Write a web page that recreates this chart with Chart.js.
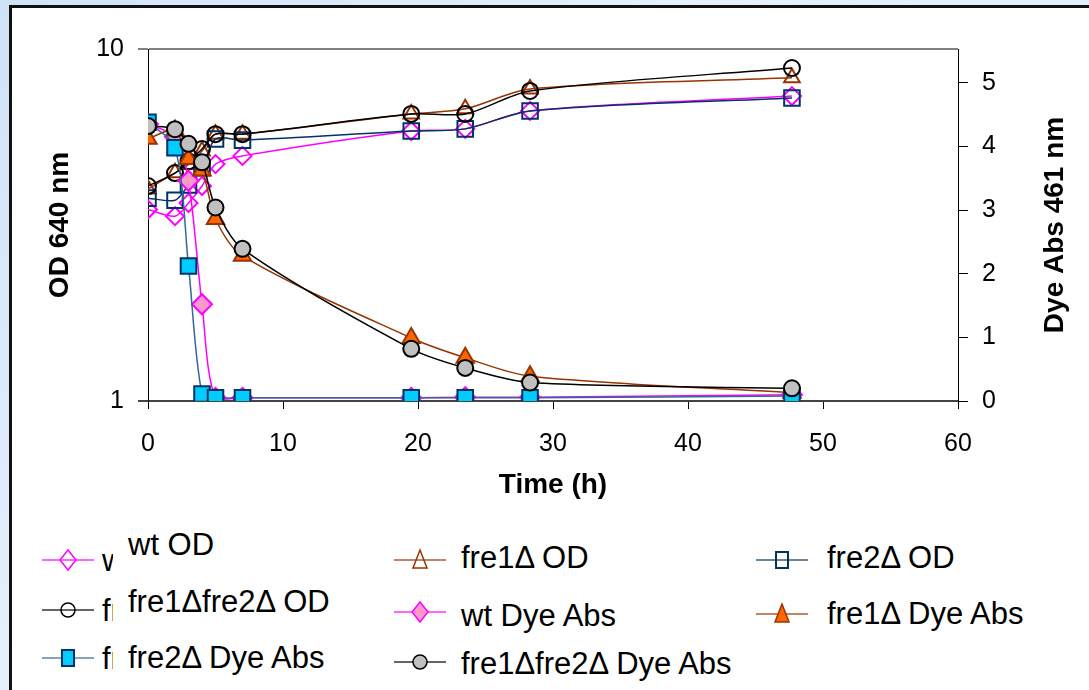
<!DOCTYPE html>
<html>
<head>
<meta charset="utf-8">
<script src="https://cdn.jsdelivr.net/npm/chart.js@4/dist/chart.umd.min.js"></script>
<style>
  html, body { margin: 0; padding: 0; }
  body {
    width: 1089px; height: 690px; overflow: hidden; position: relative;
    background: linear-gradient(135deg, #cfe3f7 0%, #e6f1fb 40%, #d9eaf8 100%);
    font-family: "Liberation Sans", Arial, sans-serif;
  }
  #frame {
    position: absolute; left: 9px; top: 5px; width: 1100px; height: 700px;
    background: #fff; border: 3px solid #111; box-sizing: border-box;
  }
  #chart { position: absolute; left: 0; top: 0; }
  .lg { position: absolute; font-size: 31px; color: #000; white-space: nowrap; line-height: 1; }
  .lgm { position: absolute; }
  .clip { position: absolute; overflow: hidden; width: 11px; font-size: 31px; line-height: 1; white-space: nowrap; }
</style>
</head>
<body>
<div id="frame"></div>
<canvas id="chart" width="1089" height="520"></canvas>
<div id="legend"></div>
<script>
// time points (h)
var times = [0, 2, 3, 4, 5, 7, 19.5, 23.5, 28.3, 47.7];

// OD 640 nm (left, log axis)
var wtOD     = [3.5, 3.35, 3.65, 4.08, 4.71, 4.97, 5.85, 5.93, 6.67, 7.35];
var fre1OD   = [4.0, 4.45, 4.7, 5.13, 5.73, 5.73, 6.54, 6.76, 7.7, 8.28];
var fre2OD   = [3.77, 3.72, 4.11, 4.6, 5.55, 5.51, 5.85, 5.93, 6.67, 7.26];
var fre12OD  = [4.08, 4.44, 4.8, 5.2, 5.73, 5.73, 6.54, 6.54, 7.6, 8.83];

// Dye Abs 461 nm (right axis)
var wtDye    = [4.35, 4.15, 3.46, 1.52, 0.05, 0.05, 0.05, 0.06, 0.06, 0.1];
var fre1Dye  = [4.12, 4.25, 3.8, 3.62, 2.86, 2.28, 0.99, 0.68, 0.39, 0.13];
var fre2Dye  = [4.38, 3.98, 2.12, 0.11, 0.05, 0.05, 0.05, 0.05, 0.05, 0.08];
var fre12Dye = [4.32, 4.27, 4.04, 3.75, 3.04, 2.39, 0.82, 0.52, 0.29, 0.2];

var xTicks = [0, 10, 20, 30, 40, 50, 60];
var odTicks = [1, 10];
var dyeTicks = [0, 1, 2, 3, 4, 5];

function pts(vals) {
  return vals.map(function (v, i) { return { x: times[i], y: v }; });
}

var hollow = 'rgba(255,255,255,0)';

// label, data, axis, line colour, marker style, fill, marker border, radius
var series = [
  ['wt OD', wtOD, 'y', '#ff00ff', 'rectRot', hollow, '#ff00ff', 9],
  ['fre1\u0394 OD', fre1OD, 'y', '#993300', 'triangle', hollow, '#993300', 9],
  ['fre2\u0394 OD', fre2OD, 'y', '#003366', 'rect', hollow, '#003366', 11],
  ['fre1\u0394fre2\u0394 OD', fre12OD, 'y', '#000000', 'circle', hollow, '#000000', 8],
  ['wt Dye Abs', wtDye, 'y2', '#ff00ff', 'rectRot', '#ff99cc', '#ff00ff', 10],
  ['fre1\u0394 Dye Abs', fre1Dye, 'y2', '#993300', 'triangle', '#ff6600', '#993300', 10],
  ['fre2\u0394 Dye Abs', fre2Dye, 'y2', '#336699', 'rect', '#00ccff', '#003366', 11],
  ['fre1\u0394fre2\u0394 Dye Abs', fre12Dye, 'y2', '#000000', 'circle', '#c0c0c0', '#000000', 8]
];

var datasets = series.map(function (s, i) {
  return {
    label: s[0],
    data: pts(s[1]),
    yAxisID: s[2],
    borderColor: s[3],
    borderWidth: 1.5,
    pointStyle: s[4],
    pointBackgroundColor: s[5],
    pointBorderColor: s[6],
    pointBorderWidth: 2,
    pointRadius: s[7],
    pointHoverRadius: s[7],
    tension: 0.3,
    fill: false,
    order: -i
  };
});

var tickFont = { family: 'Liberation Sans', size: 25 };
var titleFont = { family: 'Liberation Sans', size: 28, weight: 'bold' };

// right axis title reads bottom-to-top like the left one
var rightTitle = {
  id: 'rightTitle',
  afterDraw: function (chart) {
    var ctx = chart.ctx, a = chart.chartArea;
    ctx.save();
    ctx.translate(1055, (a.top + a.bottom) / 2);
    ctx.rotate(-Math.PI / 2);
    ctx.font = 'bold 28px "Liberation Sans"';
    ctx.fillStyle = '#000';
    ctx.textAlign = 'center';
    ctx.textBaseline = 'middle';
    ctx.fillText('Dye Abs 461 nm', 0, 0);
    ctx.restore();
  }
};

new Chart(document.getElementById('chart').getContext('2d'), {
  type: 'line',
  data: { datasets: datasets },
  plugins: [rightTitle],
  options: {
    responsive: false,
    animation: false,
    devicePixelRatio: 1,
    layout: { padding: { left: 0, top: 49, right: 0, bottom: 0 } },
    plugins: { legend: { display: false }, tooltip: { enabled: false } },
    scales: {
      x: {
        type: 'linear', min: 0, max: 60,
        afterBuildTicks: function (s) { s.ticks = xTicks.map(function (v) { return { value: v }; }); },
        afterFit: function (s) { s.height = 119; },
        ticks: { font: tickFont, color: '#000', padding: 20 },
        grid: { drawOnChartArea: false, tickLength: 8, color: '#000' },
        border: { color: '#444', width: 2 },
        title: { display: true, text: 'Time (h)', font: titleFont, color: '#000', padding: { top: 0, bottom: 18 } }
      },
      y: {
        type: 'logarithmic', position: 'left', min: 1, max: 10,
        afterBuildTicks: function (s) { s.ticks = odTicks.map(function (v) { return { value: v }; }); },
        afterFit: function (s) { s.width = 148; },
        ticks: { font: tickFont, color: '#000', padding: 14, callback: function (v) { return String(v); } },
        grid: {
          tickLength: 10,
          color: function (c) { return c.tick && c.tick.value === 10 ? '#808080' : '#444'; },
          lineWidth: 2
        },
        border: { color: '#000', width: 1 },
        title: { display: true, text: 'OD 640 nm', font: titleFont, color: '#000', padding: { top: 43, bottom: 0 } }
      },
      y2: {
        type: 'linear', position: 'right', min: 0, max: 5.53,
        afterBuildTicks: function (s) { s.ticks = dyeTicks.map(function (v) { return { value: v }; }); },
        afterFit: function (s) { s.width = 131; },
        ticks: { font: tickFont, color: '#000', padding: 14 },
        grid: { drawOnChartArea: false, tickLength: 10, color: '#000' },
        border: { color: '#000', width: 1 },
        title: { display: false }
      }
    }
  }
});

// legend: 3 columns, built from the same series list
var legendPos = [
  // markerX, markerY, textX, textY, clipped
  [68, 560, 128, 545, true],
  [420, 560, 461, 558, false],
  [782, 560, 827, 558, false],
  [68, 610, 128, 602, true],
  [420, 612, 461, 616, false],
  [782, 614, 827, 614, false],
  [68, 658, 128, 658, true],
  [420, 662, 461, 664, false]
];
var legendOrder = [0, 1, 2, 3, 4, 5, 6, 7];

function markerSvg(s) {
  var w = 52, h = 30, cx = 26, cy = 15, r = 8;
  var line = '<line x1="0" y1="15" x2="52" y2="15" stroke="' + s[3] + '" stroke-width="1.5" opacity="0.8"/>';
  var fill = s[5] === hollow ? 'none' : s[5], st = s[6], m = '';
  if (s[4] === 'circle') m = '<circle cx="' + cx + '" cy="' + cy + '" r="7" fill="' + fill + '" stroke="' + st + '" stroke-width="1.5"/>';
  else if (s[4] === 'rect') m = '<rect x="' + (cx - 6) + '" y="' + (cy - 8) + '" width="12" height="16" fill="' + fill + '" stroke="' + st + '" stroke-width="2"/>';
  else if (s[4] === 'rectRot') m = '<polygon points="' + cx + ',' + (cy - r - 2) + ' ' + (cx + r) + ',' + cy + ' ' + cx + ',' + (cy + r + 2) + ' ' + (cx - r) + ',' + cy + '" fill="' + fill + '" stroke="' + st + '" stroke-width="1.5"/>';
  else m = '<polygon points="' + cx + ',' + (cy - 10) + ' ' + (cx + 7) + ',' + (cy + 8) + ' ' + (cx - 7) + ',' + (cy + 8) + '" fill="' + fill + '" stroke="' + st + '" stroke-width="1.5"/>';
  return '<svg width="' + w + '" height="' + h + '">' + line + m + '</svg>';
}

var lg = document.getElementById('legend');
var html = '';
legendOrder.forEach(function (idx, k) {
  var s = series[idx], p = legendPos[k];
  html += '<div class="lgm" style="left:' + (p[0] - 26) + 'px;top:' + (p[1] - 15) + 'px">' + markerSvg(s) + '</div>';
  if (p[4]) {
    html += '<div class="clip" style="left:' + (p[0] + 34) + 'px;top:' + (p[1] - 15) + 'px">' + s[0] + '</div>';
  }
  html += '<div class="lg" style="left:' + p[2] + 'px;top:' + (p[3] - 16) + 'px">' + s[0] + '</div>';
});
lg.innerHTML = html;
</script>
</body>
</html>
